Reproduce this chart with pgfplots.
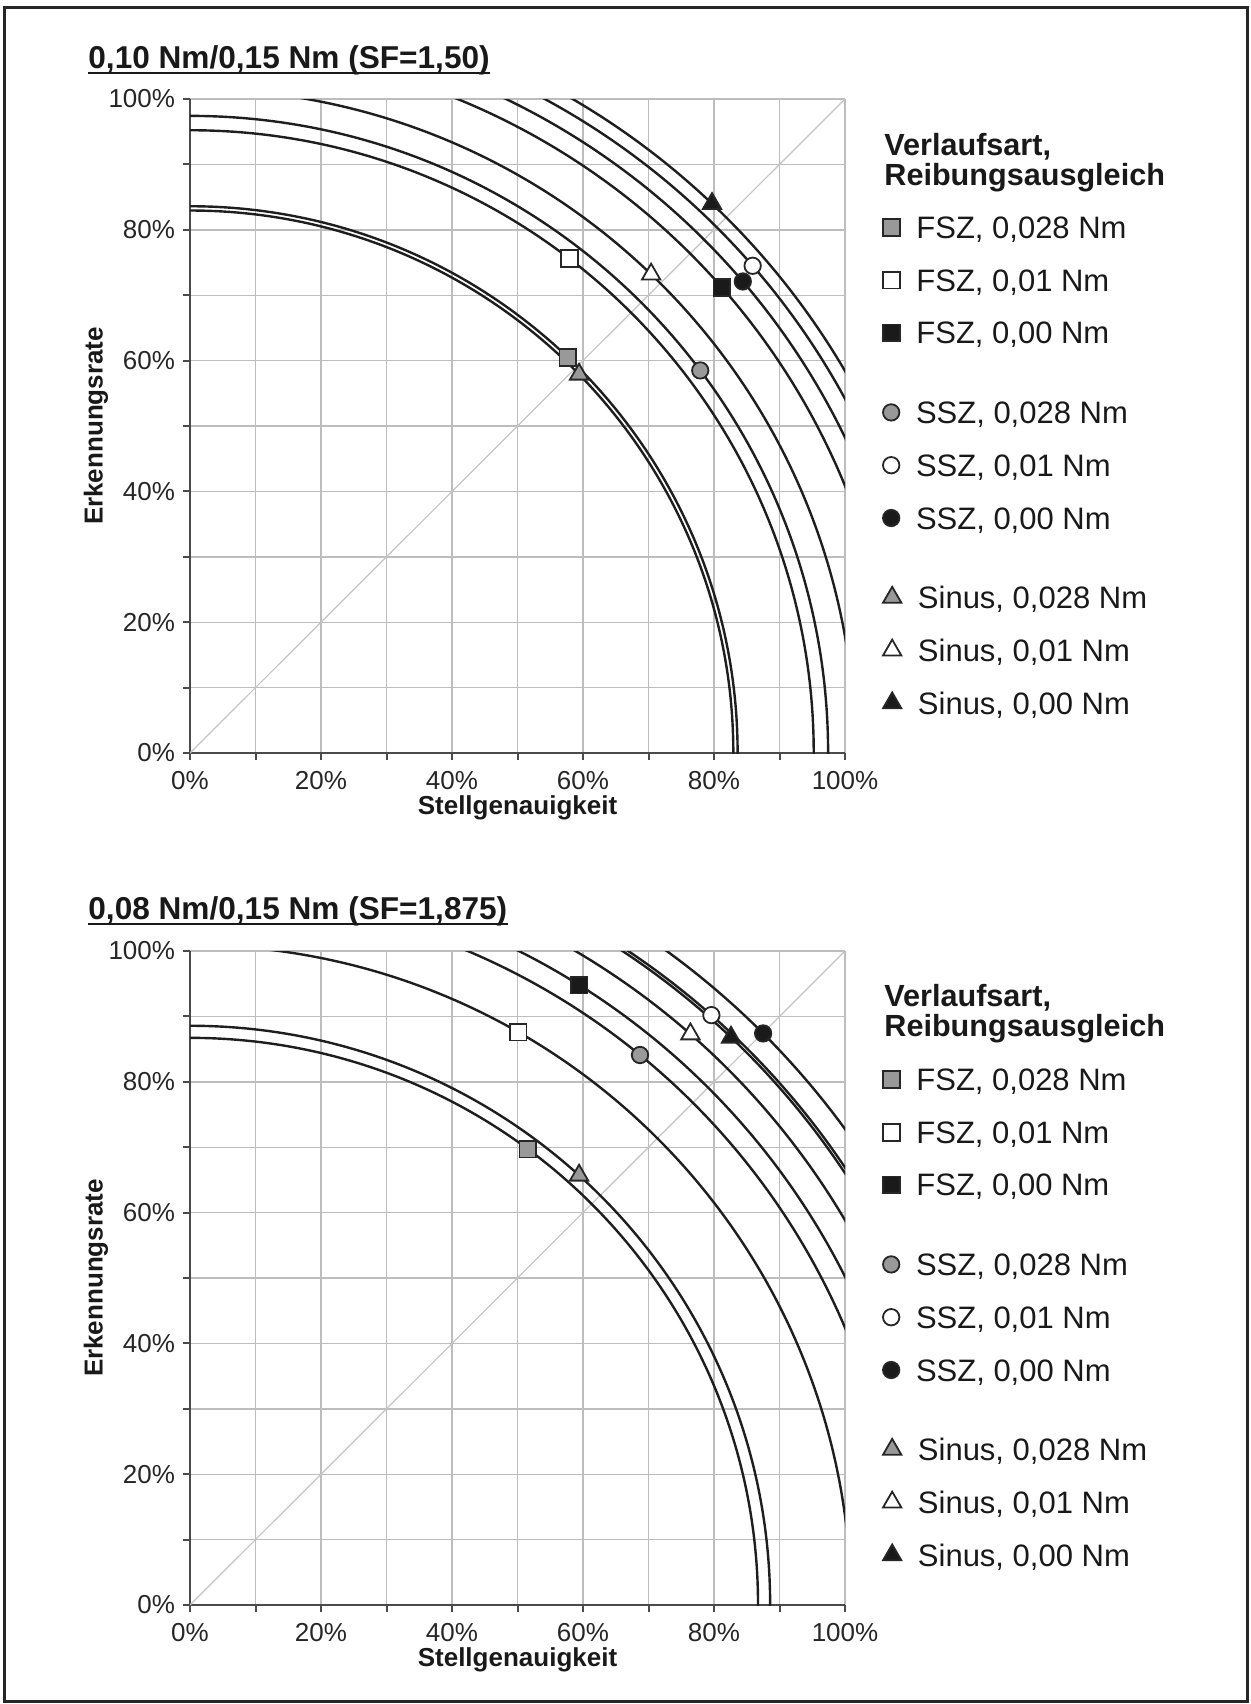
\documentclass[border=0pt]{standalone}
\usepackage{fontspec}
\setmainfont{Liberation Sans}
\usepackage{pgfplots}
\pgfplotsset{compat=1.18}

\definecolor{gridgray}{HTML}{BDBDBD}
\definecolor{diaggray}{HTML}{C4C4C4}
\definecolor{axisgray}{HTML}{4A4A4A}
\definecolor{arcblack}{HTML}{1E1E1E}
\definecolor{markgray}{HTML}{999999}
\definecolor{markedge}{HTML}{262626}
\definecolor{markblack}{HTML}{1A1A1A}

% arc through a point, centred in the origin
\newcommand{\arcthrough}[2]{%
  \draw[arcblack, line width=1.2pt] (axis cs:0,0)
    ellipse [x radius={veclen(#1,#2)}, y radius={veclen(#1,#2)}];}
\newcommand{\ent}[1]{#1\rule[-4pt]{0pt}{20pt}}

\pgfplotsset{
  mk/.style={only marks},
  gsq/.style={mk, mark=square*, mark size=4.2pt, mark options={draw=markedge, fill=markgray, line width=0.9pt}},
  wsq/.style={mk, mark=square*, mark size=4.2pt, mark options={draw=markedge, fill=white, line width=0.9pt}},
  bsq/.style={mk, mark=square*, mark size=4.2pt, mark options={draw=markedge, fill=markblack, line width=0.9pt}},
  gci/.style={mk, mark=*, mark size=4.1pt, mark options={draw=markedge, fill=markgray, line width=0.9pt}},
  wci/.style={mk, mark=*, mark size=4.1pt, mark options={draw=markedge, fill=white, line width=0.9pt}},
  bci/.style={mk, mark=*, mark size=4.1pt, mark options={draw=markedge, fill=markblack, line width=0.9pt}},
  gtr/.style={mk, mark=triangle*, mark size=5.3pt, mark options={draw=markedge, fill=markgray, line width=0.9pt}},
  wtr/.style={mk, mark=triangle*, mark size=5.3pt, mark options={draw=markedge, fill=white, line width=0.9pt}},
  btr/.style={mk, mark=triangle*, mark size=5.3pt, mark options={draw=markedge, fill=markblack, line width=0.9pt}},
  panel/.style={
    scale only axis, width=327.5pt, height=327pt,
    anchor=south west,
    xmin=0, xmax=100, ymin=0, ymax=100,
    xtick={0,20,...,100}, ytick={0,20,...,100},
    minor xtick={10,30,...,90}, minor ytick={10,30,...,90},
    grid=both,
    major grid style={gridgray, line width=0.7pt},
    minor grid style={gridgray, line width=0.7pt},
    axis x line*=bottom, axis y line*=left,
    axis line style={-, draw=axisgray, line width=1pt},
    tick align=outside, major tick length=3.5pt, minor tick length=3.5pt,
    every tick/.style={draw=axisgray, line width=1pt},
    /pgf/number format/assume math mode=true,
    xticklabel={\pgfmathprintnumber{\tick}\%},
    yticklabel={\pgfmathprintnumber{\tick}\%},
    tick label style={font=\fontsize{13}{15}\selectfont, text=black!85},
    xticklabel style={inner sep=0pt, yshift=-5.5pt},
    yticklabel style={inner sep=0pt, xshift=-3.8pt},
    xlabel={Stellgenauigkeit}, ylabel={Erkennungsrate},
    label style={font=\bfseries\fontsize{13}{15}\selectfont, text=black!90},
    xlabel style={at={(axis description cs:0.5,-0.0835)}, anchor=center},
    ylabel style={at={(axis description cs:-0.1435,0.5)}, anchor=center},
    legend cell align=left,
    legend style={draw=none, fill=none, inner sep=0pt, outer sep=0pt,
      row sep=8.9pt, column sep=8.3pt,
      anchor=north west,
      font=\fontsize{15.5}{18}\selectfont,
      cells={anchor=base west},
      nodes={inner sep=0pt, text=black!90}},
    legend image code/.code={\draw[##1] plot coordinates {(0pt,5.5pt)};},
  },
}

% one group of three legend entries, held by an empty axis on top of the panel
\newcommand{\leggroup}[8]{%
  \begin{axis}[panel, hide axis, at={#1},
      legend style={at={(rel axis cs:1.058,#2)}}]
  \addlegendimage{#3}\addlegendentry{\ent{#4}}
  \addlegendimage{#5}\addlegendentry{\ent{#6}}
  \addlegendimage{#7}\addlegendentry{\ent{#8}}
  \end{axis}}

\begin{document}
\begin{tikzpicture}
\useasboundingbox (0,0) rectangle (625pt,-852pt);
\draw[line width=1.5pt, black!85] (2pt,-3.5pt) rectangle (623.5pt,-850.5pt);

% ---------- upper panel ----------
\node[anchor=base west, inner sep=0pt, font=\bfseries\fontsize{15.8}{18}\selectfont, text=black!90] (t1) at (44pt,-34.2pt) {0,10 Nm/0,15 Nm (SF=1,50)};
\draw[line width=1pt, black!90] ([yshift=-2.2pt]t1.base west) -- ([yshift=-2.2pt]t1.base east);
\node[anchor=base west, inner sep=0pt, font=\bfseries\fontsize{15.3}{15}\selectfont, text=black!90] at (442pt,-77.5pt) {Verlaufsart,};
\node[anchor=base west, inner sep=0pt, font=\bfseries\fontsize{15.3}{15}\selectfont, text=black!90] at (442pt,-92.5pt) {Reibungsausgleich};

\begin{axis}[panel, at={(95pt,-376.5pt)}]
\addplot[diaggray, line width=0.6pt] coordinates {(0,0) (100,100)};
\arcthrough{57.7}{60.5}
\arcthrough{57.9}{75.6}
\arcthrough{81.2}{71.2}
\arcthrough{77.9}{58.5}
\arcthrough{85.9}{74.5}
\arcthrough{84.4}{72.1}
\arcthrough{59.4}{57.9}
\arcthrough{70.4}{73.2}
\arcthrough{79.7}{84.0}
\addplot[gsq] coordinates {(57.7,60.5)}; % FSZ, 0,028 Nm
\addplot[wsq] coordinates {(57.9,75.6)}; % FSZ, 0,01 Nm
\addplot[bsq] coordinates {(81.2,71.2)}; % FSZ, 0,00 Nm
\addplot[gci] coordinates {(77.9,58.5)}; % SSZ, 0,028 Nm
\addplot[wci] coordinates {(85.9,74.5)}; % SSZ, 0,01 Nm
\addplot[bci] coordinates {(84.4,72.1)}; % SSZ, 0,00 Nm
\addplot[gtr] coordinates {(59.4,57.9)}; % Sinus, 0,028 Nm
\addplot[wtr] coordinates {(70.4,73.2)}; % Sinus, 0,01 Nm
\addplot[btr] coordinates {(79.7,84.0)}; % Sinus, 0,00 Nm
\end{axis}
\leggroup{(95pt,-376.5pt)}{0.8358}{gsq}{FSZ, 0,028 Nm}{wsq}{FSZ, 0,01 Nm}{bsq}{FSZ, 0,00 Nm}
\leggroup{(95pt,-376.5pt)}{0.5529}{gci}{SSZ, 0,028 Nm}{wci}{SSZ, 0,01 Nm}{bci}{SSZ, 0,00 Nm}
\leggroup{(95pt,-376.5pt)}{0.2700}{gtr}{Sinus, 0,028 Nm}{wtr}{Sinus, 0,01 Nm}{btr}{Sinus, 0,00 Nm}

% ---------- lower panel ----------
\node[anchor=base west, inner sep=0pt, font=\bfseries\fontsize{15.8}{18}\selectfont, text=black!90] (t2) at (44pt,-459.7pt) {0,08 Nm/0,15 Nm (SF=1,875)};
\draw[line width=1pt, black!90] ([yshift=-2.2pt]t2.base west) -- ([yshift=-2.2pt]t2.base east);
\node[anchor=base west, inner sep=0pt, font=\bfseries\fontsize{15.3}{15}\selectfont, text=black!90] at (442pt,-503pt) {Verlaufsart,};
\node[anchor=base west, inner sep=0pt, font=\bfseries\fontsize{15.3}{15}\selectfont, text=black!90] at (442pt,-518pt) {Reibungsausgleich};

\begin{axis}[panel, at={(95pt,-802.5pt)}]
\addplot[diaggray, line width=0.6pt] coordinates {(0,0) (100,100)};
\arcthrough{51.6}{69.7}
\arcthrough{50.1}{87.6}
\arcthrough{59.4}{94.8}
\arcthrough{68.7}{84.1}
\arcthrough{79.6}{90.2}
\arcthrough{87.5}{87.4}
\arcthrough{59.4}{65.7}
\arcthrough{76.4}{87.3}
\arcthrough{82.6}{86.8}
\addplot[gsq] coordinates {(51.6,69.7)};
\addplot[wsq] coordinates {(50.1,87.6)};
\addplot[bsq] coordinates {(59.4,94.8)};
\addplot[gci] coordinates {(68.7,84.1)};
\addplot[wci] coordinates {(79.6,90.2)};
\addplot[bci] coordinates {(87.5,87.4)};
\addplot[gtr] coordinates {(59.4,65.7)};
\addplot[wtr] coordinates {(76.4,87.3)};
\addplot[btr] coordinates {(82.6,86.8)};
\end{axis}
\leggroup{(95pt,-802.5pt)}{0.8358}{gsq}{FSZ, 0,028 Nm}{wsq}{FSZ, 0,01 Nm}{bsq}{FSZ, 0,00 Nm}
\leggroup{(95pt,-802.5pt)}{0.5529}{gci}{SSZ, 0,028 Nm}{wci}{SSZ, 0,01 Nm}{bci}{SSZ, 0,00 Nm}
\leggroup{(95pt,-802.5pt)}{0.2700}{gtr}{Sinus, 0,028 Nm}{wtr}{Sinus, 0,01 Nm}{btr}{Sinus, 0,00 Nm}
\end{tikzpicture}
\end{document}
